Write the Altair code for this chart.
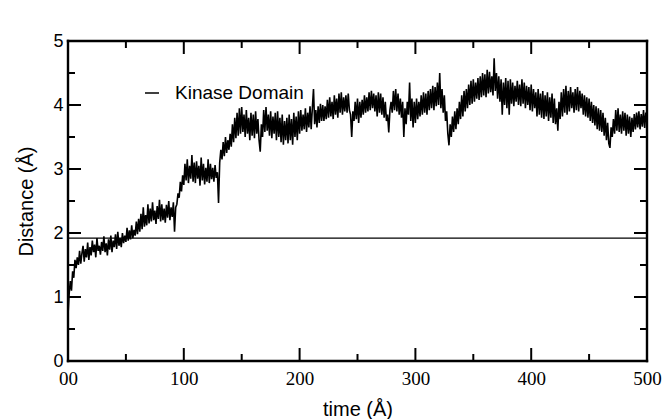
import altair as alt
import pandas as pd

# ---- data ----
time_step = 1
distance = [
    0.72, 1.05, 1.25, 1.10, 1.40, 1.30, 1.58, 1.45, 1.62, 1.50,
    1.72, 1.52, 1.68, 1.80, 1.55, 1.75, 1.62, 1.85, 1.58, 1.78,
    1.65, 1.88, 1.70, 1.82, 1.62, 1.92, 1.72, 1.80, 1.66, 1.86,
    1.72, 1.95, 1.70, 1.84, 1.65, 1.90, 1.74, 1.96, 1.70, 1.88,
    1.78, 1.98, 1.75, 2.02, 1.80, 1.92, 1.78, 2.00, 1.84, 1.96,
    1.86, 2.08, 1.88, 2.04, 1.90, 2.12, 1.92, 2.05, 1.96, 2.18,
    1.98, 2.22, 2.02, 2.30, 2.06, 2.40, 2.10, 2.28, 2.12, 2.45,
    2.15, 2.38, 2.18, 2.48, 2.20, 2.35, 2.14, 2.42, 2.22, 2.52,
    2.18, 2.45, 2.20, 2.38, 2.16, 2.44, 2.24, 2.50, 2.20, 2.40,
    2.25, 2.48, 2.02, 2.40, 2.45, 2.62, 2.55, 2.80, 2.65, 2.90,
    2.75, 3.08, 2.82, 3.15, 2.78, 3.05, 2.85, 3.22, 2.80, 3.10,
    2.78, 3.12, 2.85, 3.05, 2.74, 3.18, 2.82, 3.08, 2.76, 3.02,
    2.80, 3.15, 2.78, 3.08, 2.84, 3.02, 2.80, 3.06, 2.86, 2.95,
    2.47, 3.10, 3.30, 3.15, 3.42, 3.20, 3.50, 3.25, 3.45, 3.30,
    3.55, 3.35, 3.70, 3.42, 3.80, 3.48, 3.88, 3.52, 3.95, 3.55,
    3.97, 3.58, 3.85, 3.50, 3.92, 3.55, 3.80, 3.45, 3.88, 3.52,
    3.85, 3.48, 3.90, 3.55, 3.78, 3.45, 3.27, 3.70, 3.50, 3.92,
    3.58, 3.97, 3.60, 3.85, 3.52, 3.90, 3.48, 3.82, 3.55, 3.88,
    3.45, 3.90, 3.50, 3.80, 3.42, 3.85, 3.38, 3.75, 3.45, 3.80,
    3.40, 3.85, 3.45, 3.78, 3.38, 3.88, 3.50, 3.82, 3.45, 3.90,
    3.55, 3.92, 3.60, 3.85, 3.62, 3.95, 3.58, 3.88, 3.65, 3.98,
    3.62, 3.95, 4.25, 3.70, 3.92, 3.65, 3.98, 3.72, 4.02, 3.75,
    4.00, 3.75, 3.98, 3.78, 4.08, 3.80, 4.12, 3.82, 4.05, 3.78,
    4.15, 3.85, 4.10, 3.80, 4.18, 3.88, 4.20, 3.85, 4.12, 3.90,
    4.15, 3.88, 4.18, 3.92, 3.85, 3.50, 3.90, 3.75, 4.05, 3.78,
    4.10, 3.72, 4.05, 3.80, 4.08, 3.85, 4.15, 3.88, 4.12, 3.90,
    4.20, 3.92, 4.22, 3.95, 4.18, 3.90, 4.15, 3.82, 4.20, 3.88,
    4.18, 3.85, 4.12, 3.80, 4.05, 3.75, 3.85, 3.57, 3.92, 4.05,
    3.88, 4.22, 3.92, 4.25, 3.90, 4.18, 3.85, 4.10, 3.80, 4.05,
    3.50, 3.95, 3.70, 4.05, 3.85, 4.35, 3.75, 4.10, 3.65, 4.05,
    3.72, 4.10, 3.78, 4.05, 3.82, 4.15, 3.85, 4.20, 3.88, 4.18,
    3.85, 4.22, 3.92, 4.25, 3.95, 4.30, 3.92, 4.28, 3.98, 4.35,
    4.00, 4.50, 3.95, 4.25, 3.88, 4.15, 3.75, 3.90, 3.55, 3.37,
    3.70, 3.50, 3.82, 3.58, 3.90, 3.62, 3.95, 3.70, 4.05, 3.78,
    4.15, 3.82, 4.22, 3.90, 4.25, 3.95, 4.32, 4.00, 4.38, 4.02,
    4.40, 4.05, 4.35, 4.10, 4.42, 4.08, 4.45, 4.12, 4.50, 4.15,
    4.48, 4.12, 4.55, 4.18, 4.52, 4.20, 4.45, 4.15, 4.73, 4.22,
    4.50, 4.10, 4.45, 4.05, 4.40, 3.85, 4.35, 4.00, 4.42, 3.95,
    4.38, 3.85, 4.40, 4.02, 4.35, 3.98, 4.30, 4.05, 4.38, 4.00,
    4.32, 3.98, 4.40, 4.02, 4.35, 3.95, 4.30, 4.00, 4.28, 3.92,
    4.32, 3.90, 4.25, 3.95, 4.20, 3.82, 4.25, 3.85, 4.18, 3.80,
    4.22, 3.78, 4.15, 3.82, 4.20, 3.75, 4.12, 3.80, 4.18, 3.72,
    4.10, 3.70, 3.95, 3.60, 4.05, 3.78, 4.20, 3.82, 4.25, 3.88,
    4.30, 3.85, 4.22, 3.90, 4.28, 3.95, 4.20, 3.88, 4.25, 3.92,
    4.28, 3.90, 4.22, 3.95, 4.18, 3.85, 4.15, 3.82, 4.12, 3.80,
    4.10, 3.75, 4.05, 3.72, 4.00, 3.68, 3.98, 3.62, 3.95, 3.60,
    3.92, 3.58, 3.88, 3.52, 3.80, 3.45, 3.72, 3.40, 3.33, 3.65,
    3.50, 3.78, 3.55, 3.92, 3.60, 3.95, 3.58, 3.85, 3.55, 3.90,
    3.60, 3.88, 3.52, 3.85, 3.55, 3.82, 3.50, 3.80, 3.58, 3.86,
    3.62, 3.88, 3.65, 3.90, 3.62, 3.86, 3.66, 3.92, 3.64, 3.88,
    3.75,
]
reference_level = [1.92]
series_name = "Kinase Domain"
x_major = [0, 100, 200, 300, 400, 500]
x_minor = [50, 150, 250, 350, 450]
y_major = [0, 1, 2, 3, 4, 5]
y_minor = [0.5, 1.5, 2.5, 3.5, 4.5]

W, H = 579, 320

df = pd.DataFrame({"time": [i * time_step for i in range(len(distance))],
                   "distance": distance})

xs = alt.Scale(domain=[0, 500], nice=False, zero=False)
ys = alt.Scale(domain=[0, 5], nice=False)

x_axis = alt.Axis(
    values=x_major, ticks=False, domain=False, grid=False,
    labelExpr="datum.value == 0 ? '00' : datum.label",
    labelFont="Liberation Serif", labelFontSize=19, labelColor="black",
    labelPadding=8, labelFlush=False,
    title="time (Å)", titleFont="Liberation Sans", titleFontSize=20,
    titleFontWeight="normal", titleColor="black", titlePadding=11)
y_axis = alt.Axis(
    values=y_major, ticks=False, domain=False, grid=False, format="d",
    labelFont="Liberation Sans", labelFontSize=18, labelColor="black",
    labelPadding=5, labelFlush=False,
    title="Distance (Å)", titleFont="Liberation Sans", titleFontSize=20,
    titleFontWeight="normal", titleColor="black", titlePadding=16)

line = alt.Chart(df).mark_line(color="black", strokeWidth=1.6).encode(
    x=alt.X("time:Q", scale=xs, axis=x_axis),
    y=alt.Y("distance:Q", scale=ys, axis=y_axis),
)

hline = alt.Chart(pd.DataFrame({"y": reference_level})).mark_rule(
    color="black", strokeWidth=1.4).encode(y=alt.Y("y:Q", scale=ys, axis=y_axis))


def xticks(vals, y0, y1):
    return alt.Chart(pd.DataFrame({"v": vals})).mark_rule(
        color="black", strokeWidth=2).encode(
        x=alt.X("v:Q", scale=xs, axis=x_axis), y=alt.value(y0), y2=alt.value(y1))


def yticks(vals, x0, x1):
    return alt.Chart(pd.DataFrame({"v": vals})).mark_rule(
        color="black", strokeWidth=2).encode(
        y=alt.Y("v:Q", scale=ys, axis=y_axis), x=alt.value(x0), x2=alt.value(x1))


ticks = [
    xticks(x_major, H, H - 13), xticks(x_minor, H, H - 7),
    xticks(x_major, 0, 13), xticks(x_minor, 0, 7),
    yticks(y_major, 0, 13), yticks(y_minor, 0, 7),
    yticks(y_major, W, W - 13), yticks(y_minor, W, W - 7),
]


def edge(x0, x1, y0, y1):
    return alt.Chart(pd.DataFrame({"e": [0]})).mark_rule(
        color="black", strokeWidth=2.4, strokeCap="square").encode(
        x=alt.value(x0), x2=alt.value(x1), y=alt.value(y0), y2=alt.value(y1))


frame = [edge(0, W, 0, 0), edge(0, W, H, H), edge(0, 0, 0, H), edge(W, W, 0, H)]

leg_line = alt.Chart(pd.DataFrame({"n": [series_name]})).mark_rule(
    color="black", strokeWidth=1.5).encode(
    x=alt.value(77), x2=alt.value(91), y=alt.value(52))
leg_text = alt.Chart(pd.DataFrame({"n": [series_name]})).mark_text(
    align="left", baseline="middle", font="Liberation Sans", fontSize=19,
    color="black").encode(x=alt.value(107), y=alt.value(52), text="n:N")

chart = alt.layer(line, hline, *ticks, *frame, leg_line, leg_text).properties(
    width=W, height=H,
    autosize=alt.AutoSizeParams(type="none"),
    padding={"left": 68, "top": 41, "right": 20, "bottom": 58},
).configure(background="white",
            view=alt.ViewConfig(strokeWidth=0))

chart.save("out.html", embed_options={"renderer": "svg", "actions": False})
